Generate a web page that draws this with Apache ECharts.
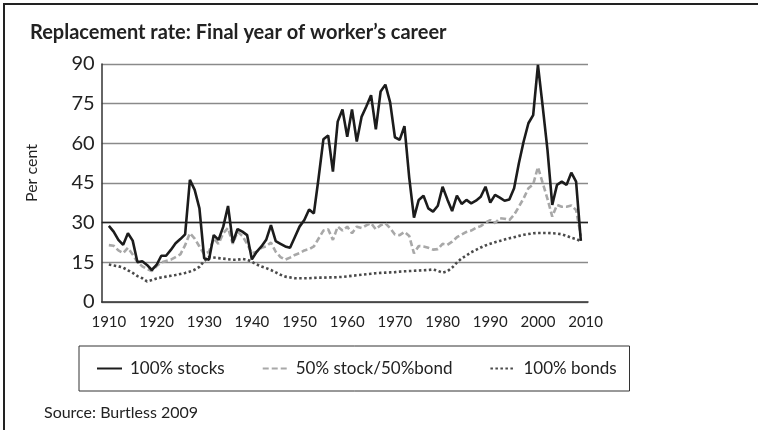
<!DOCTYPE html>
<html>
<head>
<meta charset="utf-8">
<title>Replacement rate</title>
<script src="https://cdn.jsdelivr.net/npm/echarts@6/dist/echarts.min.js"></script>
<style>
  html, body { margin: 0; padding: 0; background: #fff; }
  .wrap { position: relative; width: 758px; height: 430px; }
  .frame {
    position: absolute; left: 3px; top: 3px; right: 0; bottom: 0;
    border-top: 2px solid #222; border-left: 2px solid #222;
    pointer-events: none;
  }
  #chart { width: 758px; height: 430px; }
</style>
</head>
<body>
<div class="wrap">
  <div id="chart"></div>
  <div class="frame"></div>
</div>
<script>
// category years on the axis (first and last slot are empty)
const firstYear = 1909
const lastYear = 2010
const dataStart = 1910

// values 1910 .. 2009
const stocks = [
  28.8, 26.6, 23.5, 21.6, 26.0, 23.2, 15.0, 15.4, 14.0, 12.1,
  14.0, 17.5, 17.5, 19.7, 22.2, 23.8, 25.6, 46.2, 42.4, 35.4,
  16.5, 16.0, 25.3, 23.5, 28.5, 36.3, 22.5, 27.6, 26.6, 25.3,
  16.1, 19.0, 21.0, 23.5, 29.1, 23.0, 22.0, 21.0, 20.5, 24.5,
  28.5, 31.0, 35.0, 33.5, 47.0, 61.5, 63.0, 49.3, 68.2, 72.8,
  62.5, 72.8, 60.7, 70.0, 73.9, 78.2, 65.3, 79.6, 82.2, 75.5,
  62.3, 61.3, 66.5, 47.0, 31.9, 38.6, 40.2, 35.4, 34.2, 36.4,
  43.6, 38.8, 34.4, 40.2, 37.1, 38.6, 37.3, 38.3, 39.8, 43.6,
  37.6, 40.5, 39.5, 38.3, 38.8, 43.0, 52.5, 60.7, 67.6, 70.7,
  89.7, 73.9, 57.5, 36.7, 44.3, 45.5, 44.3, 48.9, 45.5, 23.1
]

const mixed = [
  21.5, 21.3, 19.5, 18.5, 20.5, 18.0, 15.0, 13.5, 12.5, 11.7,
  13.5, 15.0, 15.5, 16.0, 17.0, 18.0, 21.5, 26.0, 24.0, 21.0,
  18.0, 19.0, 24.0, 22.0, 26.0, 28.0, 22.0, 26.6, 25.0, 22.0,
  18.4, 19.0, 20.5, 21.0, 22.5, 19.0, 17.0, 16.0, 16.8, 17.8,
  18.5, 19.5, 20.0, 21.0, 24.0, 27.0, 27.5, 23.5, 28.5, 27.0,
  28.5, 26.0, 28.5, 28.0, 29.0, 29.8, 27.5, 29.0, 29.8, 27.9,
  25.5, 25.3, 26.5, 25.0, 18.4, 21.2, 21.0, 20.5, 19.8, 20.0,
  22.0, 21.6, 22.8, 24.5, 25.5, 26.5, 27.0, 28.0, 28.7, 30.0,
  31.0, 29.8, 31.7, 31.5, 31.0, 33.0, 36.0, 39.2, 43.0, 44.5,
  51.0, 45.0, 39.0, 32.3, 36.7, 36.0, 36.0, 36.5, 34.8, 25.0
]

const bonds = [
  14.2, 13.8, 13.5, 13.0, 12.0, 11.0, 9.8, 9.0, 7.8, 8.3,
  8.9, 9.3, 9.6, 9.9, 10.2, 10.6, 11.0, 11.5, 12.2, 13.3,
  15.5, 17.0, 16.8, 16.6, 16.4, 16.2, 16.0, 16.0, 16.3, 16.0,
  15.2, 14.2, 13.4, 12.8, 12.1, 11.2, 10.3, 9.6, 9.3, 9.0,
  9.0, 9.0, 9.0, 9.1, 9.2, 9.2, 9.3, 9.3, 9.4, 9.5,
  9.7, 9.9, 10.1, 10.3, 10.5, 10.7, 10.9, 11.0, 11.1, 11.2,
  11.3, 11.5, 11.6, 11.7, 11.8, 11.9, 12.0, 12.1, 12.3, 11.8,
  11.1, 11.6, 13.0, 14.9, 16.5, 17.6, 18.8, 19.7, 20.6, 21.4,
  22.0, 22.6, 23.1, 23.6, 24.1, 24.5, 25.0, 25.4, 25.7, 26.0,
  26.1, 26.1, 26.1, 26.0, 25.9, 25.6, 25.0, 24.3, 23.8, 23.0
]

const seriesNames = ['100% stocks', '50% stock/50%bond', '100% bonds']
const yTicks = [0, 15, 30, 45, 60, 75, 90]

const years = []
for (let y = firstYear; y <= lastYear; y++) years.push(String(y))

// place values on the full category axis
function pad(values) {
  const out = years.map(() => null)
  values.forEach((v, i) => { out[dataStart - firstYear + i] = v })
  return out
}

const font = 'Lato, "Open Sans", sans-serif'
const chart = echarts.init(document.getElementById('chart'))

chart.setOption({
  animation: false,
  textStyle: { fontFamily: font, color: '#222' },
  title: [
    {
      text: 'Replacement rate: Final year of worker\u2019s career',
      left: 25,
      top: 18,
      textStyle: { fontFamily: font, fontSize: 20, fontWeight: 'bold', color: '#222' }
    },
    {
      text: 'Source: Burtless 2009',
      left: 39,
      top: 400,
      textStyle: { fontFamily: font, fontSize: 16, fontWeight: 'normal', color: '#222' }
    }
  ],
  grid: {
    left: 101.7,
    right: 170,
    top: 64,
    bottom: 128
  },
  legend: {
    data: seriesNames,
    left: 79,
    top: 346,
    padding: [14, 13, 14, 17],
    itemWidth: 25,
    itemHeight: 14,
    itemGap: 37,
    borderColor: '#333',
    borderWidth: 1,
    itemStyle: { opacity: 0 },
    textStyle: { fontFamily: font, fontSize: 17, color: '#222', padding: [0, 0, 0, 3] }
  },
  xAxis: {
    type: 'category',
    data: years,
    boundaryGap: true,
    axisLine: { lineStyle: { color: '#333', width: 1.5 } },
    axisTick: { show: false },
    axisLabel: {
      interval: (idx, val) => Number(val) % 10 === 0,
      margin: 13,
      fontFamily: font,
      fontSize: 15,
      color: '#222'
    },
    splitLine: { show: false }
  },
  yAxis: {
    type: 'value',
    min: 0,
    max: 90,
    interval: 15,
    name: 'Per cent',
    nameLocation: 'middle',
    nameRotate: 90,
    nameGap: 62,
    nameTextStyle: { fontFamily: font, fontSize: 16, color: '#222', padding: [0, 0, 0, 20] },
    axisLine: { show: true, lineStyle: { color: '#333', width: 1.5 } },
    axisTick: { show: false },
    axisLabel: {
      margin: 7,
      fontFamily: font,
      fontSize: 20,
      color: '#222',
      formatter: v => (yTicks.includes(v) ? String(v) : '')
    },
    splitLine: { lineStyle: { color: '#8a8a8a', width: 1.3 } }
  },
  series: [
    {
      name: seriesNames[0],
      type: 'line',
      data: pad(stocks),
      symbol: 'none',
      lineStyle: { color: '#1c1c1c', width: 2.6 },
      itemStyle: { color: '#1c1c1c' },
      z: 4,
      markLine: {
        silent: true,
        symbol: 'none',
        label: { show: false },
        lineStyle: { color: '#222', width: 1.3, type: 'solid' },
        data: [{ yAxis: 30 }],
        z: 1
      }
    },
    {
      name: seriesNames[1],
      type: 'line',
      data: pad(mixed),
      symbol: 'none',
      lineStyle: { color: '#a8a8a8', width: 2.6, type: [6, 3] },
      itemStyle: { color: '#a8a8a8' },
      z: 3
    },
    {
      name: seriesNames[2],
      type: 'line',
      data: pad(bonds),
      symbol: 'none',
      lineStyle: { color: '#4a4a4a', width: 2.6, type: [2.5, 2.5] },
      itemStyle: { color: '#4a4a4a' },
      z: 2
    }
  ]
})
</script>
</body>
</html>
